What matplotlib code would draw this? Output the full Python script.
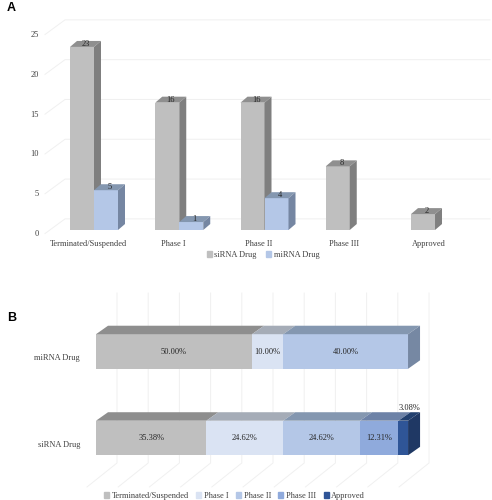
import matplotlib
matplotlib.use("Agg")
import matplotlib.pyplot as plt
from matplotlib.patches import Patch

plt.rcParams['font.family'] = ['Liberation Serif', 'DejaVu Serif']

# data
stages = ['Terminated/Suspended', 'Phase I', 'Phase II', 'Phase III', 'Approved']
sirna_counts = [23, 16, 16, 8, 2]
mirna_counts = [5, 1, 4, 0, 0]
drugs = ['siRNA Drug', 'miRNA Drug']
sirna_pct = [35.38, 24.62, 24.62, 12.31, 3.08]
mirna_pct = [50.00, 10.00, 40.00, 0, 0]
yticks_a = [0, 5, 10, 15, 20, 25]

# colours (front, top, side)
c_si = ('#BFBFBF', '#8F8F8F', '#7F7F7F')
c_mi = ('#B4C7E7', '#8497B0', '#7586A2')
stage_cols = [('#BFBFBF', '#8E8E8E', '#7F7F7F'),
              ('#DAE3F3', '#A5ACB7', '#9BA3AF'),
              ('#B4C7E7', '#8497B0', '#7688A3'),
              ('#8FAADC', '#6D82A7', '#62779A'),
              ('#2F5597', '#22406F', '#1F3864')]
grid_c = '#F0F0F0'
txt_c = '#404040'
fs = 6

fig = plt.figure(figsize=(4.92, 5.0), dpi=100)

# ---------------- panel A ----------------
axA = fig.add_axes([0.07844, 0.52408, 0.9097, 0.44576])
axA.set_xlim(-0.65, 4.6)
axA.set_ylim(-1, 27)
axA.axis('off')

w = 0.2815      # bar width
dx, dy = 0.082, 0.75   # depth offset

for v in yticks_a:
    axA.plot([-0.575, -0.34, 4.645], [v - 0.45, v + 1.4, v + 1.4],
             color=grid_c, lw=0.7, zorder=0, clip_on=False)
    axA.text(-0.645, v - 0.5, str(v), ha='right', va='center',
             fontsize=fs, color=txt_c)


def bar3d(ax, x0, val, cols, z):
    x1 = x0 + w
    ax.bar(x0, val, width=w, align='edge', color=cols[0], zorder=z)
    ax.fill([x0, x1, x1 + dx, x0 + dx], [val, val, val + dy, val + dy],
            color=cols[1], zorder=z, lw=0)
    ax.fill([x1, x1 + dx, x1 + dx, x1], [0, dy, val + dy, val],
            color=cols[2], zorder=z, lw=0)
    ax.text(x0 + w / 2 + dx / 2, val + dy / 2, str(val), ha='center',
            va='center', fontsize=fs, color='#262626', zorder=z + 1)


z = 2
for i, name in enumerate(stages):
    if sirna_counts[i] > 0:
        bar3d(axA, i - w, sirna_counts[i], c_si, z)
        z += 2
    if mirna_counts[i] > 0:
        bar3d(axA, i, mirna_counts[i], c_mi, z)
        z += 2
    axA.text(i - 0.07, -1.75, name, ha='center', va='center',
             fontsize=fs, color=txt_c, clip_on=False)

fig.legend(handles=[Patch(color=c_si[0]), Patch(color=c_mi[0])],
           labels=['siRNA Drug', 'miRNA Drug'], loc='center',
           bbox_to_anchor=(263 / 492, 1 - 255 / 500), ncol=2, frameon=False,
           fontsize=fs, handlelength=0.6, handleheight=0.6,
           columnspacing=1.2, handletextpad=0.3, labelcolor=txt_c)

# ---------------- panel B ----------------
axB = fig.add_axes([0.01756, 0.0029, 0.9703, 0.4325])
axB.set_xlim(-28, 125)
axB.set_ylim(-0.7, 1.8)
axB.axis('off')

bh = 0.4
bdx, bdy = 3.85, 0.098

for v in range(0, 101, 10):
    xb = v + 6.73
    axB.plot([xb, xb, v - 2.88], [1.676, -0.289, -0.566],
             color=grid_c, lw=0.7, zorder=0, clip_on=False)

for j, (drug, pcts) in enumerate(zip(drugs, [sirna_pct, mirna_pct])):
    y0 = j - bh / 2
    y1 = j + bh / 2
    left = 0
    segs = [(k, p) for k, p in enumerate(pcts) if p > 0]
    for n, (k, p) in enumerate(segs):
        cols = stage_cols[k]
        axB.barh(j, p, left=left, height=bh, color=cols[0], zorder=2)
        axB.fill([left, left + p, left + p + bdx, left + bdx],
                 [y1, y1, y1 + bdy, y1 + bdy], color=cols[1], lw=0, zorder=2)
        if n == len(segs) - 1:
            e = left + p
            axB.fill([e, e + bdx, e + bdx, e],
                     [y0, y0 + bdy, y1 + bdy, y1], color=cols[2], lw=0,
                     zorder=2)
        lab = f'{p:.2f}%'
        if p < 5:
            axB.text(left + p / 2 + bdx / 2, y1 + bdy + 0.05, lab,
                     ha='center', va='center', fontsize=fs, color='#262626',
                     zorder=3)
        else:
            axB.text(left + p / 2, j, lab, ha='center', va='center',
                     fontsize=fs, color='#262626', zorder=3)
        left += p
    axB.text(-5.1, j - 0.08, drug, ha='right', va='center', fontsize=fs,
             color=txt_c)

fig.legend(handles=[Patch(color=c[0]) for c in stage_cols], labels=stages,
           loc='center', bbox_to_anchor=(234.5 / 492, 1 - 496 / 500),
           ncol=5, frameon=False, fontsize=fs, handlelength=0.6,
           handleheight=0.6, columnspacing=0.9, handletextpad=0.3,
           labelcolor=txt_c)

# panel letters
fig.text(7 / 492, 1 - 8 / 500, 'A', family='Liberation Sans',
         weight='bold', fontsize=9, ha='left', va='center')
fig.text(7 / 492, 1 - 318 / 500, 'B', family='Liberation Sans',
         weight='bold', fontsize=9, ha='left', va='center')

fig.savefig('out.png', dpi=100)
